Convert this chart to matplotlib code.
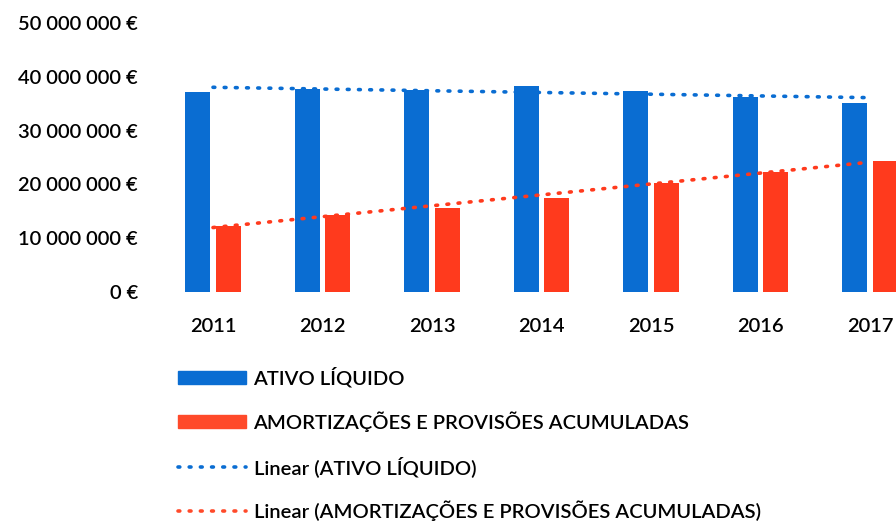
import matplotlib.pyplot as plt
import numpy as np
from matplotlib.patches import Patch
from matplotlib.lines import Line2D

# Values (euros)
years = ['2011', '2012', '2013', '2014', '2015', '2016', '2017']
ativo_liquido = [37.1e6, 37.8e6, 37.6e6, 38.3e6, 37.3e6, 36.3e6, 35.2e6]
amortizacoes = [12.2e6, 14.4e6, 15.6e6, 17.4e6, 20.2e6, 22.3e6, 24.3e6]
y_ticks = [0, 10e6, 20e6, 30e6, 40e6, 50e6]

blue = '#0a6dd2'
red = '#ff3a1d'
dots = (0, (0.5, 2.6))

plt.rcParams['font.family'] = ['Lato', 'DejaVu Sans']
plt.rcParams['font.weight'] = 'semibold'

fig = plt.figure(figsize=(8.96, 5.21), dpi=100)
# axes in pixel terms: left 160, right 896 (cut off), bottom y=292, top y=23
ax = fig.add_axes([160/896, 1 - 292/521, 736/896, 269/521])

x = np.arange(len(years))
w = 0.228
off = 0.138
ax.bar(x - off, ativo_liquido, w, color=blue)
ax.bar(x + off, amortizacoes, w, color=red)

# linear trendlines, like Excel
for vals, c in [(ativo_liquido, blue), (amortizacoes, red)]:
    k, b = np.polyfit(x, vals, 1)
    ax.plot(x, k*x + b, color=c, lw=2.6, linestyle=dots, dash_capstyle='round')

ax.set_xlim(-0.484, 6.237)
ax.set_ylim(0, 50e6)
ax.set_xticks(x)
ax.set_xticklabels(years)
ax.set_yticks(y_ticks)
ax.set_yticklabels([f'{int(v):,} €'.replace(',', ' ') for v in y_ticks])
ax.tick_params(axis='both', length=0, labelsize=14.5, colors='black')
ax.tick_params(axis='y', pad=16)
ax.tick_params(axis='x', pad=19)
for s in ax.spines.values():
    s.set_visible(False)

handles = [
    Patch(color=blue),
    Patch(color='#ff4a2a'),
    Line2D([], [], color=blue, lw=2.6, linestyle=dots, dash_capstyle='round'),
    Line2D([], [], color='#ff4a2a', lw=2.6, linestyle=dots, dash_capstyle='round'),
]
labels = ['ATIVO LÍQUIDO', 'AMORTIZAÇÕES E PROVISÕES ACUMULADAS',
          'Linear (ATIVO LÍQUIDO)', 'Linear (AMORTIZAÇÕES E PROVISÕES ACUMULADAS)']
fig.legend(handles, labels, loc='upper left', bbox_to_anchor=(178/896, 1 - 367/521),
           frameon=False, fontsize=14.5, handlelength=3.4, handleheight=0.6,
           handletextpad=0.35, labelspacing=1.18, borderpad=0, borderaxespad=0)

plt.savefig('out.png', dpi=100)
